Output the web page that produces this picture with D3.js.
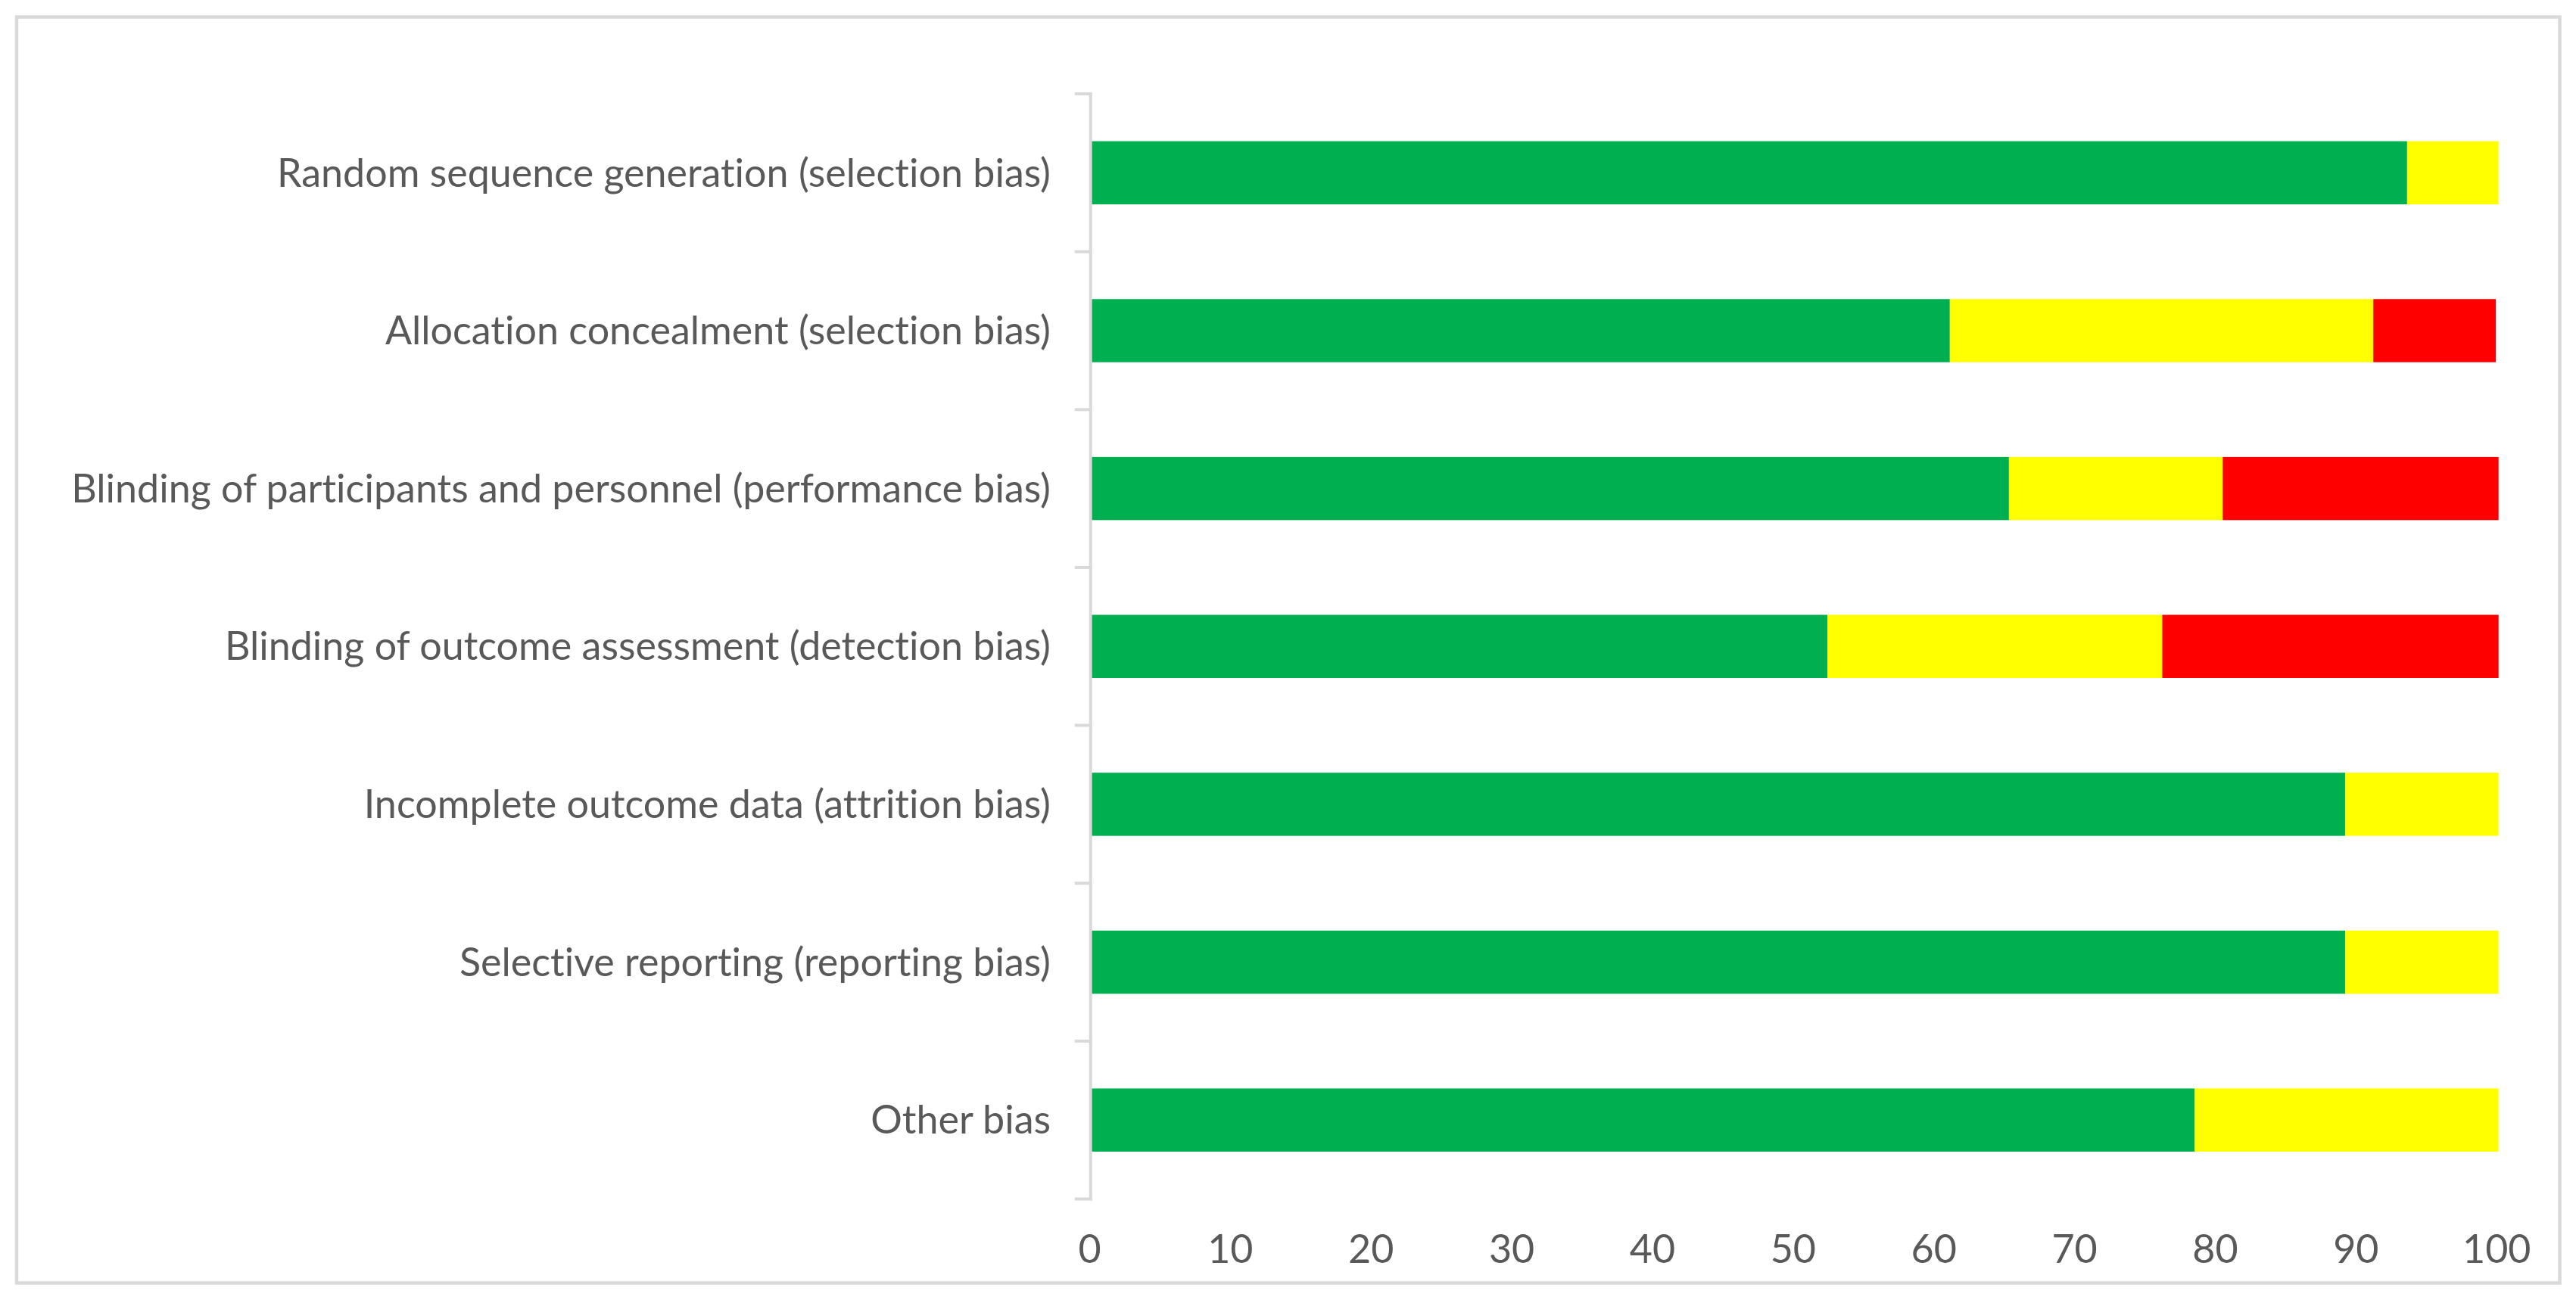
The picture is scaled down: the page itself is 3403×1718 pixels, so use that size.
<!DOCTYPE html>
<html>
<head>
<meta charset="utf-8">
<script src="https://cdn.jsdelivr.net/npm/d3@7"></script>
<style>
  html, body { margin: 0; padding: 0; background: #fff; }
  svg text {
    font-family: Lato, "Open Sans", sans-serif;
    font-weight: 400;
    font-variant-ligatures: none;
    fill: #595959;
  }
</style>
</head>
<body>
<div id="chart"></div>
<script>
const categories = [
  'Random sequence generation (selection bias)',
  'Allocation concealment (selection bias)',
  'Blinding of participants and personnel (performance bias)',
  'Blinding of outcome assessment (detection bias)',
  'Incomplete outcome data (attrition bias)',
  'Selective reporting (reporting bias)',
  'Other bias'
];
const lowRisk     = [93.5, 61.0, 65.2, 52.3, 89.1, 89.1, 78.4];
const unclearRisk = [ 6.5, 30.1, 15.2, 23.8, 10.9, 10.9, 21.6];
const highRisk    = [ 0.0,  8.7, 19.6, 23.9,  0.0,  0.0,  0.0];
const xTicks = [0, 10, 20, 30, 40, 50, 60, 70, 80, 90, 100];

const seriesKeys = ['low', 'unclear', 'high'];
const seriesColors = { low: '#00b050', unclear: '#ffff00', high: '#ff0000' };

const W = 3403, H = 1718;
const FONT = 52;

const rows = categories.map((c, i) => ({
  cat: c, low: lowRisk[i], unclear: unclearRisk[i], high: highRisk[i]
}));

const svg = d3.select('#chart')
  .append('svg')
  .attr('width', W)
  .attr('height', H)
  .attr('viewBox', `0 0 ${W} ${H}`);

// outer frame
svg.append('rect')
  .attr('x', 22).attr('y', 22.5)
  .attr('width', 3359.5).attr('height', 1673)
  .attr('fill', '#fff')
  .attr('stroke', '#d9d9d9')
  .attr('stroke-width', 4.5);

const x = d3.scaleLinear().domain([0, 100]).range([1442, 3300.7]);
const y = d3.scaleBand()
  .domain(categories)
  .range([124, 1584.5])
  .paddingInner(0.6)
  .paddingOuter(0.3);

const stacked = d3.stack().keys(seriesKeys)(rows);

svg.append('g')
  .selectAll('g')
  .data(stacked)
  .join('g')
  .attr('fill', d => seriesColors[d.key])
  .selectAll('rect')
  .data(d => d)
  .join('rect')
  .attr('x', d => x(d[0]))
  .attr('y', d => y(d.data.cat))
  .attr('width', d => Math.max(0, x(d[1]) - x(d[0])))
  .attr('height', y.bandwidth());

// category axis: line plus boundary ticks
const step = y.step();
const y0 = y.range()[0];
const axisX = x(0) - 1.3;
svg.append('line')
  .attr('x1', axisX).attr('x2', axisX)
  .attr('y1', y0 - 2).attr('y2', y0 + step * categories.length + 2)
  .attr('stroke', '#d9d9d9').attr('stroke-width', 4);

svg.append('g')
  .selectAll('line')
  .data(d3.range(categories.length + 1))
  .join('line')
  .attr('x1', axisX - 21).attr('x2', axisX + 2)
  .attr('y1', i => y0 + i * step)
  .attr('y2', i => y0 + i * step)
  .attr('stroke', '#d9d9d9').attr('stroke-width', 4);

svg.append('g')
  .selectAll('text')
  .data(categories)
  .join('text')
  .attr('x', 1388)
  .attr('y', d => y(d) + y.bandwidth() / 2)
  .attr('dy', '0.35em')
  .attr('text-anchor', 'end')
  .attr('font-size', FONT)
  .text(d => d);

// value axis labels
const xAxis = d3.axisBottom(x).tickValues(xTicks).tickSize(0).tickPadding(0);
const gx = svg.append('g')
  .attr('transform', 'translate(0,1651)')
  .call(xAxis);
gx.select('.domain').remove();
gx.selectAll('text')
  .attr('font-size', FONT)
  .attr('font-family', null)
  .attr('fill', null)
  .attr('dy', '0.35em')
  .attr('y', 0)
  .attr('x', -3);
</script>
</body>
</html>
